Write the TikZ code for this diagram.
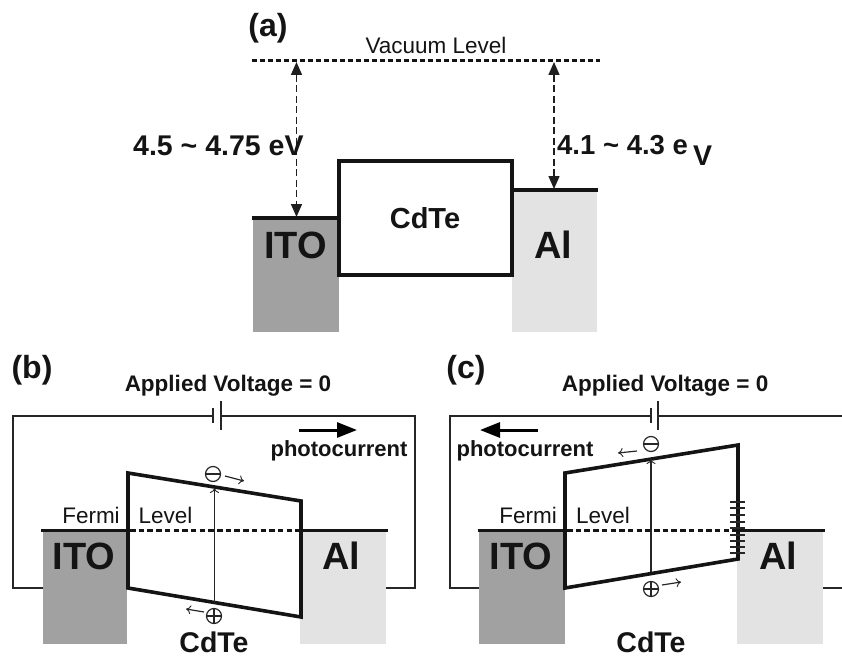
\documentclass[tikz,border=0pt]{standalone}
\usepackage{fontspec}
\setmainfont{Liberation Sans}
\usetikzlibrary{arrows.meta,calc}
\definecolor{txt}{gray}{0.08}
\definecolor{itogray}{gray}{0.63}
\definecolor{algray}{gray}{0.89}
\tikzset{
  x=1pt,y=-1pt,
  lab/.style={inner sep=0pt,text=txt,font=\fontsize{#1}{#1}\selectfont},
  blab/.style={inner sep=0pt,text=txt,font=\fontsize{#1}{#1}\selectfont\bfseries},
  level/.style={line width=3.6pt,black!92},
  box/.style={line width=3.6pt,black!92,line join=miter},
  vac/.style={line width=3pt,black!92,dash pattern=on 5pt off 3pt},
  fermi/.style={line width=3pt,black!92,dash pattern=on 5.5pt off 3.2pt},
  dim/.style={line width=1.5pt,black!88,dash pattern=on 7pt off 3.5pt},
  wire/.style={line width=1.5pt,black!85},
  plate/.style={line width=2pt,black!85},
  thin arrow/.style={line width=1.2pt,black!85,-{To[length=5pt,width=9pt,line width=.9pt]}},
  flow/.style={line width=3pt,black,-{Triangle[length=20pt,width=15pt]}},
  charge/.style={circle,draw=black!85,line width=1.2pt,minimum size=15pt,inner sep=0pt},
  minus/.style={charge,path picture={\draw[line width=1.2pt,black!85] (path picture bounding box.west)--(path picture bounding box.east);}},
  plus/.style={charge,path picture={\draw[line width=1.2pt,black!85] (path picture bounding box.west)--(path picture bounding box.east) (path picture bounding box.north)--(path picture bounding box.south);}}
}
\begin{document}
\begin{tikzpicture}
\useasboundingbox (0,0) rectangle (842,655);
% ---------- panel a
\fill[itogray] (253,218) rectangle (339,332);
\fill[algray] (512,190) rectangle (597,332);
\node[blab=32] (alab) at (268,28) {(a)};
\node[lab=22.5] (vaclab) at (436,45) {Vacuum Level};
\coordinate (vl) at (252,60.5); \coordinate (vr) at (600,60.5);
\draw[vac] (vl)--(vr);
\coordinate (ia) at (296.5,62); \coordinate (ib) at (296.5,217);
\coordinate (ra) at (554,62); \coordinate (rb) at (554,189);
\draw[dim,{Triangle[length=13pt,width=11pt]}-{Triangle[length=13pt,width=11pt]}] (ia)--(ib);
\draw[dim,{Triangle[length=13pt,width=11pt]}-{Triangle[length=13pt,width=11pt]}] (ra)--(rb);
\node[blab=28.5,anchor=west] (wfi) at (133,146) {4.5 \char`\~{} 4.75 eV};
\node[blab=27.5,anchor=west] (wfa) at (557,145) {4.1 \char`\~{} 4.3 e};
\node[blab=28.5,anchor=west] (wfv) at (693,156) {V};
\draw[level] (252,218)--(340,218);
\draw[level] (512,190)--(598,190);
\draw[box,fill=white] (339,161) rectangle (512,275);
\node[blab=29] (cda) at (425,218) {CdTe};
\node[blab=38] (itoa) at (295.5,245) {ITO};
\node[blab=38] (ala) at (553,245) {Al};
% ---------- panel b
\node[blab=32] (blab) at (32,370) {(b)};
\node[blab=22.5] (avb) at (228,386) {Applied Voltage = 0};
\coordinate (bw1) at (213,416); \coordinate (bw2) at (221,416);
\coordinate (bc1) at (13,416); \coordinate (bc2) at (13,588);
\coordinate (bc3) at (415,416); \coordinate (bc4) at (415,588);
\draw[wire] (bw1)--(bc1)--(bc2)--(43,588);
\draw[wire] (bw2)--(bc3)--(bc4)--(386,588);
\draw[plate] (213,408)--(213,423);
\draw[plate] (221,401)--(221,430);
\coordinate (bfa) at (299,430); \coordinate (bfb) at (357,430);
\draw[flow] (bfa)--(bfb);
\node[blab=22] (pcb) at (339,451) {photocurrent};
\fill[itogray] (43,531) rectangle (127,644);
\fill[algray] (300,531) rectangle (386,644);
\draw[level] (41,530.5)--(128,530.5);
\draw[level] (301,530.5)--(388,530.5);
\draw[box] (128,473)--(301,501)--(301,617)--(128,588)--cycle;
\draw[fermi] (130,530.5)--(299,530.5);
\coordinate (bva) at (214.5,603); \coordinate (bvb) at (214.5,488);
\draw[thin arrow] (bva)--(bvb);
\node[minus] (bm) at (213,474) {};
\node[plus] (bp) at (214,616) {};
\coordinate (bma) at (225,476); \coordinate (bmb) at (244,481);
\draw[thin arrow] (bma)--(bmb);
\coordinate (bpa) at (204,612); \coordinate (bpb) at (186,609);
\draw[thin arrow] (bpa)--(bpb);
\node[lab=22.5] (fb) at (91,515) {Fermi};
\node[lab=22.5] (lb) at (165.5,515) {Level};
\node[blab=38] (itob) at (84,556) {ITO};
\node[blab=38] (alb) at (341,556) {Al};
\node[blab=28.5] (cdb) at (214,642.5) {CdTe};
% ---------- panel c
\node[blab=32] (clab) at (466,370) {(c)};
\node[blab=22.5] (avc) at (665,386) {Applied Voltage = 0};
\coordinate (cw1) at (651,416); \coordinate (cw2) at (658,416);
\coordinate (cc1) at (450,416); \coordinate (cc2) at (450,588);
\coordinate (cc3) at (842,416); \coordinate (cc4) at (842,588);
\draw[wire] (cw1)--(cc1)--(cc2)--(480,588);
\draw[wire] (cw2)--(cc3);
\draw[wire] (822,588)--(cc4);
\draw[plate] (651,408)--(651,423);
\draw[plate] (658,401)--(658,430);
\coordinate (cfa) at (538,430); \coordinate (cfb) at (480,430);
\draw[flow] (cfa)--(cfb);
\node[blab=22] (pcc) at (525,451) {photocurrent};
\fill[itogray] (479,531) rectangle (565,644);
\fill[algray] (737,531) rectangle (823,644);
\draw[level] (478,530.5)--(565,530.5);
\draw[level] (738,530.5)--(825,530.5);
\draw[box] (565,473)--(738,445)--(738,559)--(565,588)--cycle;
\draw[fermi] (567,530.5)--(736,530.5);
\coordinate (cva) at (651,572); \coordinate (cvb) at (651,459);
\draw[thin arrow] (cva)--(cvb);
\node[minus] (cm) at (651,444) {};
\node[plus] (cp) at (651,589) {};
\coordinate (cma) at (637,451); \coordinate (cmb) at (618,453);
\draw[thin arrow] (cma)--(cmb);
\coordinate (cpa) at (662,585); \coordinate (cpb) at (681,582);
\draw[thin arrow] (cpa)--(cpb);
\foreach \yy in {502,508,515,522,528,535,541,547,553} \draw[line width=1.3pt,black!85] (730,\yy)--(745,\yy);
\node[lab=22.5] (fc) at (528,515) {Fermi};
\node[lab=22.5] (lc) at (603,515) {Level};
\node[blab=38] (itoc) at (521,556) {ITO};
\node[blab=38] (alc) at (778,556) {Al};
\node[blab=28.5] (cdc) at (651,642.5) {CdTe};
\end{tikzpicture}
\end{document}
